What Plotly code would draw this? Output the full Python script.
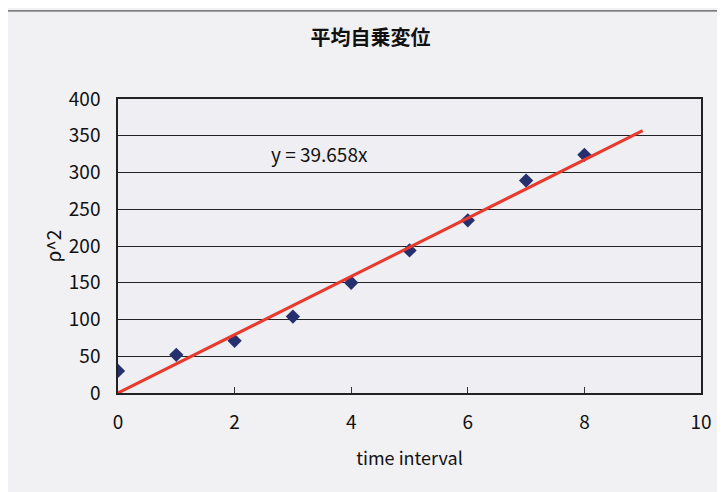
import plotly.graph_objects as go

time_interval = [0, 1, 2, 3, 4, 5, 6, 7, 8]
rho_sq = [30, 52, 71, 104, 150, 194, 235, 289, 324]
slope = 39.658
fit_x = [0, 9]
fit_y = [slope * v for v in fit_x]

title_text = "平均自乗変位"
x_title = "time interval"
y_title = "ρ^2"
eq_text = "y = 39.658x"

font_family = "Noto Sans CJK JP, Noto Sans, sans-serif"

fig = go.Figure()
fig.add_trace(go.Scatter(
    x=time_interval, y=rho_sq, mode="markers",
    marker=dict(symbol="diamond", size=11, color="#26306e"),
    showlegend=False,
))
fig.add_trace(go.Scatter(
    x=fit_x, y=fit_y, mode="lines",
    line=dict(color="#e8392c", width=3),
    showlegend=False,
))

fig.update_layout(
    width=725, height=492,
    margin=dict(l=110, r=32, t=91, b=107),
    paper_bgcolor="#f1f0f3",
    plot_bgcolor="#efeef2",
    font=dict(family=font_family, color="#111111", size=19),
    title=dict(text="<b>" + title_text + "</b>", x=0.50, xanchor="center", y=0.94, yanchor="middle",
               font=dict(size=20, family=font_family, color="#111111")),
    xaxis=dict(range=[0, 10], dtick=2, showgrid=False, zeroline=False,
               showline=True, linecolor="#222222", linewidth=1.5, mirror=True,
               ticks="inside", ticklen=6, tickcolor="#333333", ticklabelstandoff=11,
               title=dict(text=x_title, font=dict(size=18), standoff=20)),
    yaxis=dict(range=[0, 400], dtick=50, showgrid=True, gridcolor="#222222", gridwidth=1.3,
               zeroline=False, showline=True, linecolor="#222222", linewidth=1.5, mirror=True,
               ticks="", ticklabelstandoff=12,
               title=dict(text=y_title, font=dict(size=19), standoff=2)),
    annotations=[dict(x=3.45, y=326, xref="x", yref="y", text=eq_text, showarrow=False,
                      font=dict(size=19, color="#111111"))],
    shapes=[dict(type="rect", xref="paper", yref="paper", x0=-0.197, x1=1.034,
                 y0=-0.36, y1=1.30, line=dict(color="#555555", width=1.2),
                 fillcolor="rgba(0,0,0,0)", layer="below")],
)

fig.write_html("out.html")
